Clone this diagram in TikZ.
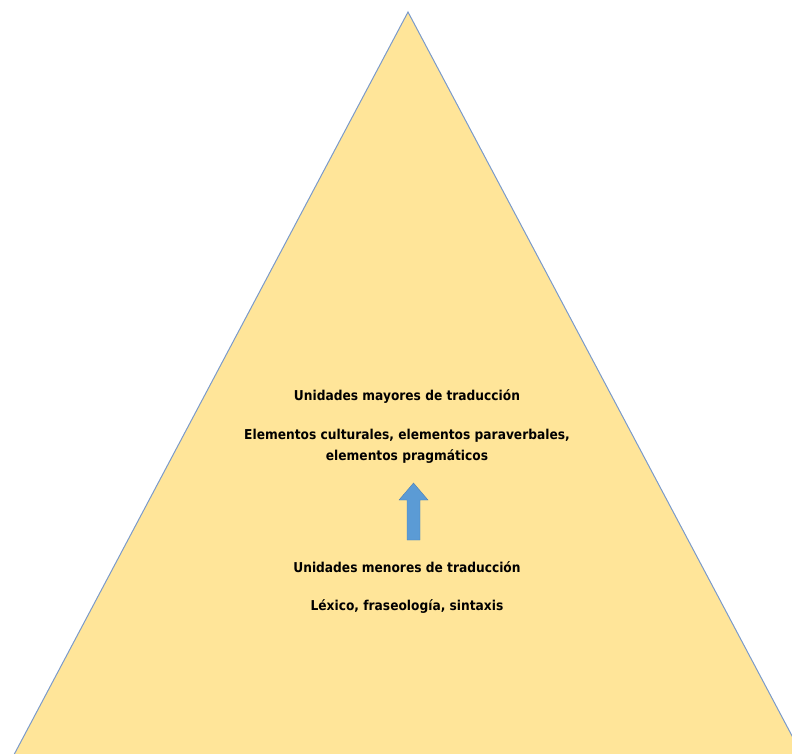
\documentclass[tikz,border=0pt]{standalone}
\usepackage{fontspec}
\setmainfont{DejaVu Sans Condensed}
\begin{document}
\begin{tikzpicture}[x=1pt,y=-1pt,
  lbl/.style={font=\bfseries\fontsize{13.6}{21}\selectfont, align=center, inner sep=0pt, text=black},
  pyr/.style={fill=pyrfill, draw=pyredge, line width=1pt}]
\definecolor{pyrfill}{HTML}{FFE599}
\definecolor{pyredge}{HTML}{7A9ACB}
\definecolor{arrfill}{HTML}{5B9BD5}
\definecolor{arredge}{HTML}{4A7EB5}
\useasboundingbox (0,0) rectangle (792,753);
\begin{scope}
\clip (0,0) rectangle (792,753);
\draw[pyr] (408,12) -- (808,766) -- (8,766) -- cycle;
\end{scope}
\node[lbl] (t1) at (407,397) {Unidades mayores de traducción};
\node[lbl] (t2) at (407,446.5) {Elementos culturales, elementos paraverbales,\\elementos pragmáticos};
\node[lbl] (t3) at (407,567.5) {Unidades menores de traducción};
\node[lbl] (t4) at (407,607) {Léxico, fraseología, sintaxis};
\draw[fill=arrfill, draw=arredge, line width=0.4pt] (407,540) -- (420,540) -- (420,500) -- (428,500) -- (413.5,483) -- (399,500) -- (407,500) -- cycle;
\end{tikzpicture}
\end{document}
